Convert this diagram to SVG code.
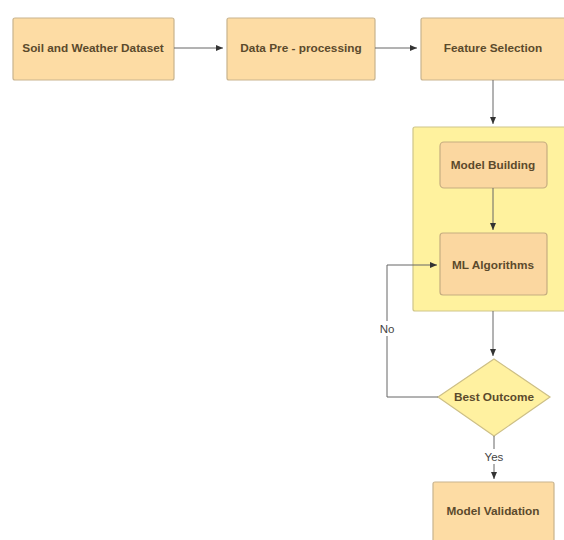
<svg xmlns="http://www.w3.org/2000/svg" width="564" height="540" viewBox="0 0 564 540">
<style>
.box{fill:#fddca4;stroke:#c9b48e;stroke-width:1.2}
.ibox{fill:#fbd7a0;stroke:#c6ad80;stroke-width:1.2}
.cont{fill:#fff29e;stroke:#cfc58a;stroke-width:1.2}
.dia{fill:#fff1a0;stroke:#cdbf86;stroke-width:1.2}
.t{font-family:"Liberation Sans",Arial,sans-serif;font-size:11.8px;font-weight:bold;fill:#5b4a2c;text-anchor:middle;dominant-baseline:central}
.l{font-family:"Liberation Sans",Arial,sans-serif;font-size:11.5px;fill:#444;text-anchor:middle;dominant-baseline:central}
.c{fill:none;stroke:#666;stroke-width:1;marker-end:url(#ah)}
</style>
<defs>
<marker id="ah" markerWidth="8" markerHeight="8" refX="7" refY="4" orient="auto" markerUnits="userSpaceOnUse">
<path d="M0,1 L7,4 L0,7 Z" fill="#333"/>
</marker>
</defs>
<rect width="564" height="540" fill="#ffffff"/>
<g id="n-soil"><rect class="box" x="13" y="18" width="161" height="62" rx="2"/><text class="t" x="93" y="48">Soil and Weather Dataset</text></g>
<g id="n-pre"><rect class="box" x="227" y="18" width="148" height="62" rx="2"/><text class="t" x="301" y="48">Data Pre - processing</text></g>
<g id="n-feat"><rect class="box" x="421" y="18" width="146" height="62" rx="2"/><text class="t" x="493" y="48">Feature Selection</text></g>
<g id="n-container"><rect class="cont" x="413" y="127" width="155" height="184" rx="2"/></g>
<g id="n-build"><rect class="ibox" x="440" y="142" width="107" height="46" rx="4"/><text class="t" x="493" y="165">Model Building</text></g>
<g id="n-ml"><rect class="ibox" x="440" y="233" width="107" height="62" rx="3"/><text class="t" x="493" y="265">ML Algorithms</text></g>
<g id="n-best"><polygon class="dia" points="494,359 550,397 494,436 438,397"/><text class="t" x="494" y="397">Best Outcome</text></g>
<g id="n-valid"><rect class="box" x="433" y="482" width="121" height="62" rx="2"/><text class="t" x="493" y="511">Model Validation</text></g>
<g id="connectors">
<path class="c" d="M174,48 L223,48"/>
<path class="c" d="M375,48 L417,48"/>
<path class="c" d="M493,80 L493,124"/>
<path class="c" d="M493,188 L493,230"/>
<path class="c" d="M493,311 L493,356"/>
<path class="c" d="M438,397 L387,397 L387,265 L437,265"/>
<rect x="378" y="321" width="18" height="15" fill="#ffffff"/>
<text class="l" x="387" y="329">No</text>
<path class="c" d="M494,436 L494,479"/>
<rect x="482" y="449" width="24" height="15" fill="#ffffff"/>
<text class="l" x="494" y="457">Yes</text>
</g>
</svg>
